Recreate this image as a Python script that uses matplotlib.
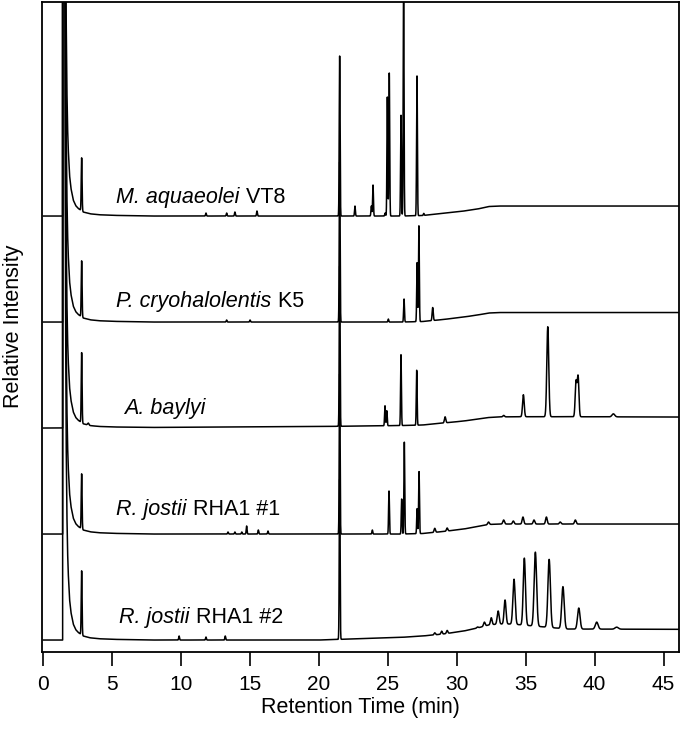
import numpy as np
import matplotlib
matplotlib.use("Agg")
from matplotlib import pyplot as plt

plt.rcParams['font.family'] = ['Liberation Sans', 'DejaVu Sans']

# Sample names (italic part, plain part), bottom trace first.
names_it = ['R. jostii', 'R. jostii', 'A. baylyi', 'P. cryohalolentis', 'M. aquaeolei']
names_rm = [' RHA1 #2', ' RHA1 #1', '', ' K5', ' VT8']

# Solvent front: (time, height above baseline).
solvent_t = [1.40, 1.43, 1.50, 1.55, 1.60, 1.65, 1.70, 1.75, 1.80, 1.90, 2.00,
             2.17, 2.35, 2.53, 2.90, 3.40, 4.00, 5.00, 6.50, 8.00]
solvent_h = [0, 5000, 3000, 840, 373, 210, 134, 93, 69, 41, 28,
             16, 10.4, 7.6, 4.0, 2.2, 1.3, 0.7, 0.3, 0]

# Baseline drift (time, rise) for each trace.
base_t = [0, 20, 26, 27.5, 29, 30.5, 31.5, 32.3, 33, 34, 36, 38, 46]
base_rha2 = [0, 0, 2.7, 4, 6, 9, 12, 15, 16, 16, 13.5, 11, 10.7]
base_rha1 = [0, 0, 0, 0.5, 2.5, 5, 7.5, 9.5, 10, 10, 10, 10, 10]
base_bay = [0, 1.5, 2.5, 3, 5, 7, 9, 10.5, 11, 11.3, 11.3, 11.3, 11]
base_k5 = [0, 0, 0, 0.5, 2.5, 5, 7, 9, 9.5, 9.5, 9.5, 9.5, 9.5]
base_vt8 = [0, 0, 0, 0.5, 2.7, 5, 7, 9.5, 10, 10, 10, 10, 10]

# Peaks: retention time (min), height, width (min).
peaks_rha2_t = [2.78, 9.85, 11.8, 13.2, 21.5, 28.4, 28.9, 29.3, 31.5, 32.0, 32.5,
                33.0, 33.5, 34.15, 34.9, 35.7, 36.7, 37.7, 38.85, 40.15, 41.6]
peaks_rha2_h = [64, 4, 3, 4, 160, 2, 3, 3, 1, 4, 7,
                13, 24, 45, 67, 74, 68, 42, 21, 7, 2]
peaks_rha2_w = [0.03, 0.03, 0.03, 0.03, 0.03, 0.05, 0.05, 0.05, 0.06, 0.06, 0.06,
                0.07, 0.07, 0.08, 0.08, 0.09, 0.09, 0.09, 0.09, 0.1, 0.12]

peaks_rha1_t = [2.78, 13.4, 13.9, 14.4, 14.75, 15.6, 16.3, 21.5, 23.87, 25.08,
                26.0, 26.19, 27.12, 27.26, 28.4, 29.3, 32.3, 33.4, 34.1, 34.8,
                35.6, 36.5, 37.5, 38.6]
peaks_rha1_h = [55, 2, 2, 2, 8, 4, 3, 160, 4, 43,
                35, 92, 25, 62, 4, 3, 2.5, 4, 3, 7,
                4, 7, 2, 4]
peaks_rha1_w = [0.03, 0.03, 0.03, 0.03, 0.03, 0.03, 0.03, 0.03, 0.03, 0.03,
                0.03, 0.03, 0.03, 0.03, 0.05, 0.05, 0.06, 0.06, 0.06, 0.06,
                0.06, 0.06, 0.06, 0.06]

peaks_bay_t = [2.78, 3.26, 21.5, 24.79, 24.92, 25.95, 27.09, 29.15, 33.4, 34.83,
               36.6, 38.65, 38.8, 41.36]
peaks_bay_h = [70, 2, 160, 20, 15, 71, 55, 6, 1.5, 22,
               90, 35, 40, 3]
peaks_bay_w = [0.03, 0.05, 0.03, 0.03, 0.03, 0.03, 0.03, 0.05, 0.06, 0.06,
               0.07, 0.06, 0.06, 0.1]

peaks_k5_t = [2.78, 13.3, 15.0, 21.5, 25.03, 26.17, 27.12, 27.25, 28.25]
peaks_k5_h = [56, 2, 2, 160, 3, 23, 59, 96, 13]
peaks_k5_w = [0.03, 0.03, 0.03, 0.03, 0.03, 0.03, 0.03, 0.03, 0.04]

peaks_vt8_t = [2.78, 11.8, 13.3, 13.9, 15.5, 21.5, 22.61, 23.8, 23.92, 24.8,
               24.96, 25.1, 25.95, 26.14, 27.11, 27.6]
peaks_vt8_h = [53, 3, 3, 4, 5, 160, 10, 10, 31, 3,
               119, 143, 101, 230, 140, 2]
peaks_vt8_w = [0.03, 0.03, 0.03, 0.03, 0.03, 0.03, 0.03, 0.03, 0.03, 0.03,
               0.03, 0.03, 0.03, 0.03, 0.03, 0.03]

traces = [(base_rha2, peaks_rha2_t, peaks_rha2_h, peaks_rha2_w),
          (base_rha1, peaks_rha1_t, peaks_rha1_h, peaks_rha1_w),
          (base_bay, peaks_bay_t, peaks_bay_h, peaks_bay_w),
          (base_k5, peaks_k5_t, peaks_k5_h, peaks_k5_w),
          (base_vt8, peaks_vt8_t, peaks_vt8_h, peaks_vt8_w)]

# Label start time and height of the text baseline above each trace.
label_t = [5.5, 5.3, 5.85, 5.3, 5.3]
label_dy = [17, 19, 14, 15, 13]

offset0 = 11.5
step = 106

fig = plt.figure(figsize=(6.8, 7.3), dpi=100)
ax = fig.add_axes([0.0613, 0.1075, 0.9368, 0.8904])

t = np.arange(0, 46.2, 0.004)

for i, (base, pt, ph, pw) in enumerate(traces):
    y = np.interp(t, base_t, base) + np.interp(t, solvent_t, solvent_h)
    for c, h, w in zip(pt, ph, pw):
        y = y + h * np.exp(-0.5 * ((t - c) / w) ** 2)
    off = offset0 + step * i
    ax.plot(t, y + off, color='black', lw=1.1)

    # Italic species name followed by the strain in upright type.
    lab = ax.text(label_t[i], off + label_dy[i], names_it[i], fontsize=15.5,
                  style='italic', ha='left', va='baseline')
    if names_rm[i]:
        ax.annotate(names_rm[i], xy=(1, 0), xycoords=lab, fontsize=15.5,
                    ha='left', va='bottom')

ax.set_xlim(-0.12, 46.1)
ax.set_ylim(0, 650)
ax.set_xticks(range(0, 50, 5))
ax.set_yticks([])
ax.tick_params(axis='x', direction='out', length=10, width=1.2,
               labelsize=15, pad=7)
for s in ax.spines.values():
    s.set_linewidth(1.3)

ax.set_xlabel('Retention Time (min)', fontsize=15.5, labelpad=2)
ax.text(-0.045, 0.5, 'Relative Intensity', transform=ax.transAxes,
        rotation=90, ha='center', va='center', fontsize=15.5)

fig.savefig('out.png', dpi=100)
